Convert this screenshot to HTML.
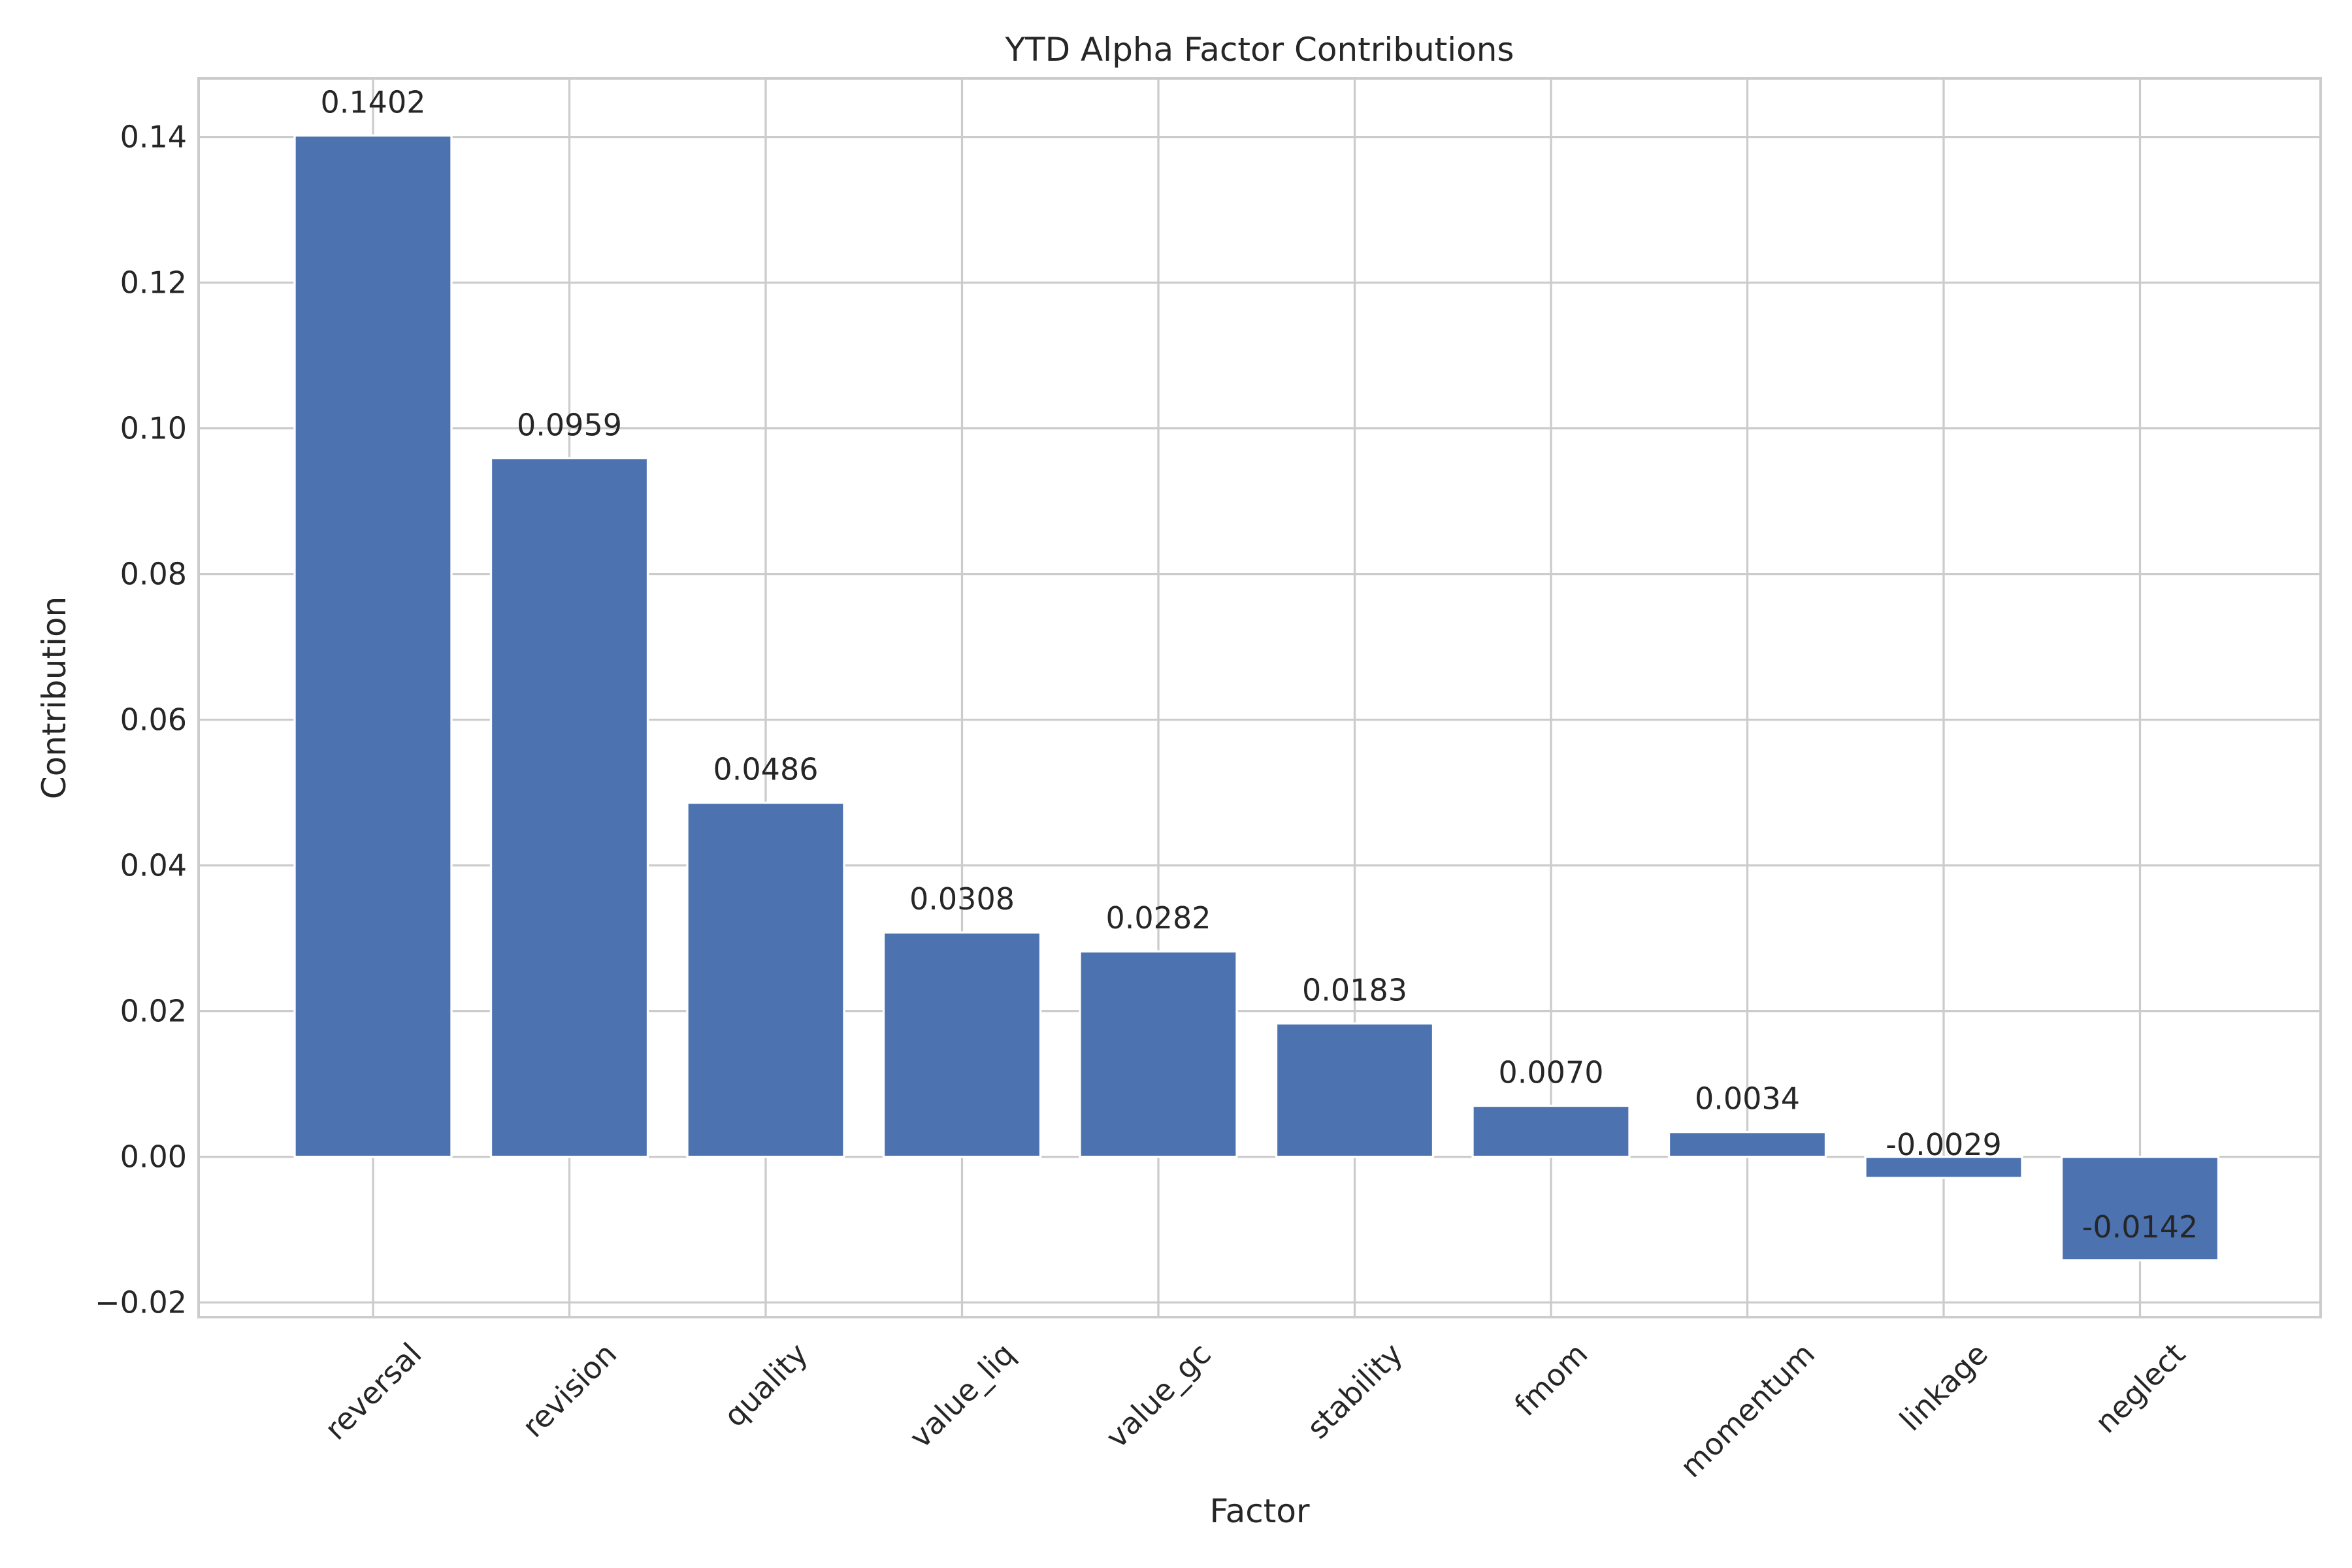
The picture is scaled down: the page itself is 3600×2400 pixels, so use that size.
<!DOCTYPE html>
<html><head><meta charset="utf-8"><style>
html,body{margin:0;padding:0;background:#fff;}
svg{display:block;}
text{font-family:"DejaVu Sans","Liberation Sans",sans-serif;fill:#262626;}
</style></head><body>
<svg id="s" width="3600" height="2400" viewBox="0 0 3600 2400" xmlns="http://www.w3.org/2000/svg">
<rect width="3600" height="2400" fill="#fff"/>
<g id="grid" stroke="#cccccc" stroke-width="3.3"></g>
<g id="bars"></g>
<rect x="304" y="120" width="3248" height="1896" fill="none" stroke="#cccccc" stroke-width="4"/>
<g id="labels"></g>
<text x="1928" y="93" font-size="50" text-anchor="middle">YTD Alpha Factor Contributions</text>
<text x="1928" y="2330" font-size="50" text-anchor="middle">Factor</text>
<text transform="translate(100,1068) rotate(-90)" font-size="50" text-anchor="middle">Contribution</text>
</svg>
<script>
const NS="http://www.w3.org/2000/svg";
const s=document.getElementById('s');
const grid=document.getElementById('grid'),bars=document.getElementById('bars'),labels=document.getElementById('labels');
const y0=1770.6, k=11150;
function el(t,a,p,txt){const e=document.createElementNS(NS,t);for(const n in a)e.setAttribute(n,a[n]);if(txt!==undefined)e.textContent=txt;p.appendChild(e);return e;}
const yt=[0.14,0.12,0.10,0.08,0.06,0.04,0.02,0.00,-0.02];
yt.forEach(v=>{const y=y0-v*k;el('line',{x1:304,x2:3552,y1:y,y2:y},grid);
 el('text',{x:286,y:y+16,'font-size':46,'text-anchor':'end'},labels,(v<0?'\u22120.02':v.toFixed(2)));});
const names=['reversal','revision','quality','value_liq','value_gc','stability','fmom','momentum','linkage','neglect'];
const vals=[0.1402,0.0959,0.0486,0.0308,0.0282,0.0183,0.0070,0.0034,-0.0029,-0.0142];
names.forEach((n,i)=>{const x=571+i*300.5;el('line',{x1:x,x2:x,y1:120,y2:2016},grid);
 const v=vals[i];const top=y0-Math.max(v,0)*k,bot=y0-Math.min(v,0)*k;
 el('rect',{x:x-120,y:top,width:240,height:bot-top,fill:'#4c72b0',stroke:'#fff','stroke-width':3.3},bars);
 const ly=y0-v*k-35;
 el('text',{x:x,y:ly,'font-size':46,'text-anchor':'middle'},labels,(v<0?'-':'')+Math.abs(v).toFixed(4));
 const t=el('text',{x:0,y:0,'font-size':46,'text-anchor':'middle','dominant-baseline':'central'},labels,n);
 const w=t.getComputedTextLength();
 const cy=2052+(w+34)*0.3536;
 t.setAttribute('transform','translate('+x+','+cy+') rotate(-45)');
});
</script>
</body></html>
